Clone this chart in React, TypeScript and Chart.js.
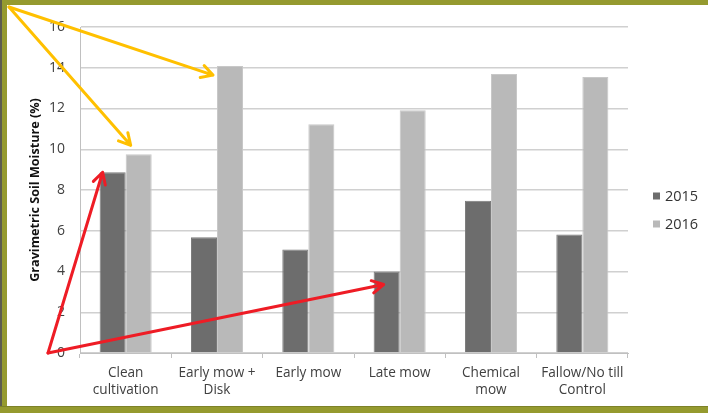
import React, { useEffect, useRef } from "react";
import { Chart, registerables } from "chart.js";

Chart.register(...registerables);

const categories: string[][] = [
  ["Clean", "cultivation"],
  ["Early mow +", "Disk"],
  ["Early mow"],
  ["Late mow"],
  ["Chemical", "mow"],
  ["Fallow/No till", "Control"],
];
const seriesNames = ["2015", "2016"];
const values2015 = [8.87, 5.68, 5.08, 4.0, 7.47, 5.81];
const values2016 = [9.75, 14.08, 11.23, 11.92, 13.69, 13.55];
const yMin = 0;
const yMax = 16;
const yStep = 2;
const yTitle = "Gravimetric Soil Moisture (%)";

const FONT = "'Open Sans', 'DejaVu Sans', sans-serif";
const OLIVE = "#959a2f";

function arrow(ctx: CanvasRenderingContext2D, x1: number, y1: number, x2: number, y2: number, color: string) {
  const ang = Math.atan2(y2 - y1, x2 - x1);
  const head = 13;
  const spread = 0.5;
  ctx.save();
  ctx.strokeStyle = color;
  ctx.lineWidth = 3;
  ctx.lineCap = "round";
  ctx.lineJoin = "round";
  ctx.beginPath();
  ctx.moveTo(x1, y1);
  ctx.lineTo(x2, y2);
  ctx.moveTo(x2 - head * Math.cos(ang - spread), y2 - head * Math.sin(ang - spread));
  ctx.lineTo(x2, y2);
  ctx.lineTo(x2 - head * Math.cos(ang + spread), y2 - head * Math.sin(ang + spread));
  ctx.stroke();
  ctx.restore();
}

const legendPlugin = {
  id: "sideLegend",
  afterDraw(chart: any) {
    const ctx = chart.ctx as CanvasRenderingContext2D;
    const area = chart.chartArea;
    const midY = (area.top + area.bottom) / 2 + 20;
    const rowGap = 28;
    const sets = chart.data.datasets;
    ctx.save();
    ctx.font = `14.5px ${FONT}`;
    ctx.textBaseline = "middle";
    ctx.textAlign = "left";
    sets.forEach((ds: any, i: number) => {
      const cy = midY + (i - (sets.length - 1) / 2) * rowGap;
      const bx = area.right + 25;
      ctx.fillStyle = ds.backgroundColor;
      ctx.fillRect(bx, cy - 3.5, 7, 7);
      ctx.fillStyle = "#333";
      ctx.fillText(ds.label, bx + 12, cy + 0.5);
    });
    ctx.restore();
  },
};

const arrowsPlugin = {
  id: "arrows",
  afterDraw(chart: any) {
    const ctx = chart.ctx as CanvasRenderingContext2D;
    const d0 = chart.getDatasetMeta(0).data;
    const d1 = chart.getDatasetMeta(1).data;
    const y0 = chart.scales.y.getPixelForValue(0);
    const yellow = "#ffc000";
    const red = "#ee1c25";
    const ox = 9, oy = 7;
    const b1 = d1[0];
    arrow(ctx, ox, oy, b1.x - 8, b1.y - 9, yellow);
    const b2 = d1[1];
    arrow(ctx, ox, oy, b2.x - b2.width / 2 - 4, b2.y + 9, yellow);
    const rx = chart.scales.y.right - 32, ry = y0;
    const r1 = d0[0];
    arrow(ctx, rx, ry, r1.x - r1.width / 2 + 3, r1.y, red);
    const r2 = d0[3];
    arrow(ctx, rx, ry, r2.x - 3, r2.y + 13, red);
  },
};

export default function App() {
  const ref = useRef<HTMLCanvasElement | null>(null);
  useEffect(() => {
    if (!ref.current) return;
    const chart = new Chart(ref.current, {
      type: "bar",
      data: {
        labels: categories,
        datasets: [
          {
            label: seriesNames[0],
            data: values2015,
            backgroundColor: "#6d6d6d",
            borderColor: "#7a7a7a",
            borderWidth: 1,
          },
          {
            label: seriesNames[1],
            data: values2016,
            backgroundColor: "#b9b9b9",
            borderColor: "#c8c8c8",
            borderWidth: 1,
          },
        ],
      },
      options: {
        responsive: false,
        animation: false,
        datasets: { bar: { categoryPercentage: 0.57, barPercentage: 1 } },
        layout: { padding: { left: 28, top: 27, right: 80, bottom: 7 } },
        plugins: {
          tooltip: { enabled: false },
          legend: { display: false },
        },
        scales: {
          x: {
            grid: {
              display: true,
              drawOnChartArea: false,
              drawTicks: true,
              tickLength: 5,
              color: "#c0c0c0",
              offset: true,
            },
            border: { display: true, color: "#c0c0c0", width: 1 },
            ticks: {
              color: "#404040",
              font: { family: FONT, size: 13.6, lineHeight: 1.25 },
              padding: 7,
              maxRotation: 0,
              autoSkip: false,
            },
          },
          y: {
            min: yMin,
            max: yMax,
            afterFit: (scale: any) => {
              scale.width = 52;
            },
            ticks: {
              stepSize: yStep,
              color: "#404040",
              font: { family: FONT, size: 14 },
              padding: 15,
            },
            grid: { color: "#d0d0d0", lineWidth: 1.5, drawTicks: false },
            border: { display: true, color: "#c0c0c0", width: 1 },
            title: {
              display: true,
              text: yTitle,
              color: "#111",
              font: { family: FONT, size: 12.6, weight: "bold" },
              padding: { top: 0, bottom: 6 },
            },
          },
        },
      },
      plugins: [arrowsPlugin, legendPlugin],
    });
    return () => chart.destroy();
  }, []);

  return (
    <div style={{ position: "fixed", left: 0, top: 0, width: 708, height: 413, background: "#fff", overflow: "hidden" }}>
      <div style={{ position: "absolute", left: 0, top: 0, width: 708, height: 5, background: OLIVE }} />
      <div style={{ position: "absolute", left: 0, top: 0, width: 7, height: 413, background: OLIVE }} />
      <div style={{ position: "absolute", left: 0, top: 0, width: 2, height: 413, background: "#5c5c4e" }} />
      <div style={{ position: "absolute", left: 0, top: 406, width: 708, height: 7, background: OLIVE, borderTop: "1px solid #7d8228", boxSizing: "border-box" }} />
      <canvas ref={ref} width={708} height={413} style={{ position: "absolute", left: 0, top: 0, width: 708, height: 413 }} />
    </div>
  );
}
